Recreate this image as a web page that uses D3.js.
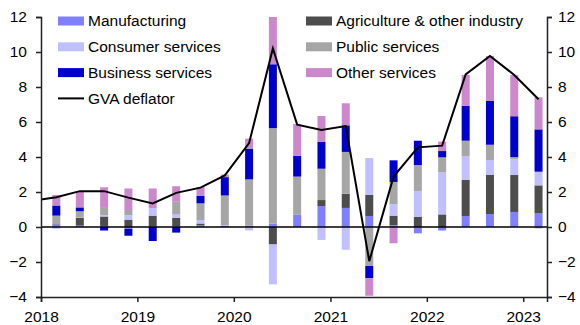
<!DOCTYPE html>
<html lang="en">
<head>
    <meta charset="UTF-8"/>
    <title>GVA deflator contributions</title>
    <script src="https://d3js.org/d3.v7.min.js"></script>
    <style>
        html, body {
            margin: 0;
            padding: 0;
            background: white;
        }
        svg text {
            font-family: "Liberation Sans", Arial, sans-serif;
            font-size: 15.5px;
            fill: #000;
        }
    </style>
</head>
<body>
    <div class="chart-container"></div>
    <script>
        // quarterly contributions to GVA deflator growth, % pts
        var quarters = ["2018 Q1", "2018 Q2", "2018 Q3", "2018 Q4",
                        "2019 Q1", "2019 Q2", "2019 Q3", "2019 Q4",
                        "2020 Q1", "2020 Q2", "2020 Q3", "2020 Q4",
                        "2021 Q1", "2021 Q2", "2021 Q3", "2021 Q4",
                        "2022 Q1", "2022 Q2", "2022 Q3", "2022 Q4",
                        "2023 Q1"];
        var manufacturing = [0.15, 0.08, 0.06, -0.1, 0.02, 0.05, 0.1, 0.08, 0.05, 0.2, 0.72, 1.2, 1.09, 0.63, 0.1, -0.36, -0.2, 0.63, 0.74, 0.86, 0.8];
        var agriculture   = [0.05, 0.45, 0.54, 0.42, 0.63, 0.47, 0.1, 0, 0.02, -1.0, 0, 0.34, 0.81, 1.2, 0.55, 0.59, 0.72, 2.06, 2.25, 2.11, 1.58];
        var consumer      = [-0.1, 0.02, 0.07, 0.25, 0.43, 0.19, 0.2, 0.02, -0.2, -2.28, 0, -0.74, -1.3, 2.11, 0.65, 1.47, 2.4, 1.37, 0.84, 0.92, 0.78];
        var publicServ    = [0.45, 0.35, 0.42, 0.3, 0, 0.73, 0.95, 1.7, 2.65, 5.45, 2.16, 1.79, 2.39, -2.23, 1.27, 1.48, 0.86, 0.87, 0.87, 0.1, -0.08];
        var business      = [0.58, 0.22, -0.2, -0.4, -0.8, -0.32, 0.44, 1.05, 1.76, 3.65, 1.18, 1.53, 1.52, -0.7, 1.24, 1.39, 0.36, 2.0, 2.5, 2.34, 2.42];
        var other         = [0.6, 0.93, 1.18, 1.23, 1.12, 0.89, 0.5, 0.15, 0.57, 2.7, 1.83, 1.48, 1.26, -1.0, -0.93, 0, 0.54, 1.76, 2.57, 2.35, 1.83];

        // GVA deflator, % y/y (starts one quarter earlier)
        var deflatorQuarters = ["2017 Q4"].concat(quarters);
        var deflator = [1.5, 1.7, 2.05, 2.05, 1.68, 1.35, 1.95, 2.25, 2.95, 4.8, 10.2, 5.85, 5.55, 5.77, -1.95, 2.88, 4.55, 4.65, 8.72, 9.77, 8.69, 7.3];

        var seriesNames = ["Manufacturing", "Agriculture & other industry", "Consumer services",
                           "Public services", "Business services", "Other services"];
        var seriesData = [manufacturing, agriculture, consumer, publicServ, business, other];
        var colours = ["#8080ff", "#4d4d4d", "#c0c0ff", "#a6a6a6", "#0000cc", "#cc88cc"];

        var yTicks = [-4, -2, 0, 2, 4, 6, 8, 10, 12];
        var yearTicks = [2018, 2019, 2020, 2021, 2022, 2023];

        var w = 580;
        var h = 325;
        var plotL = 41, plotR = 547, plotT = 17, plotB = 297;

        // mid-quarter date for each "YYYY Qn" label
        function parseQ(s) {
            var yr = +s.slice(0, 4), q = +s.slice(6);
            return new Date(yr, (q - 1) * 3 + 1, 28);
        }

        var x = d3.scaleTime()
                  .domain([new Date(2018, 0, 1), new Date(2023, 3, 1)])
                  .range([plotL, plotR]);
        var y = d3.scaleLinear().domain([-4, 12]).range([plotB, plotT]);

        var rows = quarters.map(function(q, i) {
            var r = { date: parseQ(q) };
            seriesNames.forEach(function(n, j) { r[n] = seriesData[j][i]; });
            return r;
        });

        var stacked = d3.stack()
                        .keys(seriesNames)
                        .offset(d3.stackOffsetDiverging)(rows);

        var svg = d3.select(".chart-container")
                    .append("svg")
                    .attr("width", w)
                    .attr("height", h);

        svg.append("clipPath").attr("id", "plot")
            .append("rect")
            .attr("x", plotL).attr("y", plotT)
            .attr("width", plotR - plotL).attr("height", plotB - plotT);

        // bars
        var barW = 8;
        svg.append("g")
            .selectAll("g")
            .data(stacked)
            .enter()
            .append("g")
            .attr("fill", function(d, i) { return colours[i]; })
            .selectAll("rect")
            .data(function(d) { return d; })
            .enter()
            .append("rect")
            .attr("x", function(d) { return x(d.data.date) - barW / 2; })
            .attr("y", function(d) { return y(Math.max(d[0], d[1])); })
            .attr("width", barW)
            .attr("height", function(d) { return Math.abs(y(d[0]) - y(d[1])); });

        // zero line
        svg.append("line")
            .attr("x1", plotL).attr("x2", plotR)
            .attr("y1", y(0)).attr("y2", y(0))
            .attr("stroke", "#000")
            .attr("stroke-width", 1.5);

        // deflator line
        var line = d3.line()
                     .x(function(d, i) { return x(parseQ(deflatorQuarters[i])); })
                     .y(function(d) { return y(d); });

        svg.append("path")
            .datum(deflator)
            .attr("clip-path", "url(#plot)")
            .attr("fill", "none")
            .attr("stroke", "#000")
            .attr("stroke-width", 2)
            .attr("d", line);

        // axes
        var yLeft = svg.append("g")
            .attr("transform", "translate(" + plotL + ",0)")
            .call(d3.axisLeft(y).tickValues(yTicks).tickSize(5).tickPadding(9));
        var yRight = svg.append("g")
            .attr("transform", "translate(" + plotR + ",0)")
            .call(d3.axisRight(y).tickValues(yTicks).tickSize(5).tickPadding(6));
        var xAxis = svg.append("g")
            .attr("transform", "translate(0," + plotB + ")")
            .call(d3.axisBottom(x)
                .tickValues(yearTicks.map(function(yr) { return new Date(yr, 0, 1); }))
                .tickFormat(d3.timeFormat("%Y"))
                .tickSize(5).tickPadding(9));

        [yLeft, yRight, xAxis].forEach(function(g) {
            g.selectAll("path, line").attr("stroke", "#222").attr("stroke-width", 1.5);
            g.attr("font-size", null).attr("font-family", null);
        });

        // legend, two columns
        var legX = [58, 306];
        var legend = svg.append("g");
        seriesNames.forEach(function(n, i) {
            var cx = legX[i % 2], cy = 21 + 25.8 * Math.floor(i / 2);
            legend.append("rect")
                .attr("x", cx).attr("y", cy - 4.5)
                .attr("width", 26).attr("height", 9)
                .attr("fill", colours[i]);
            legend.append("text")
                .attr("x", cx + 30).attr("y", cy)
                .attr("dy", "0.35em")
                .text(n);
        });
        var gy = 21 + 25.8 * 3;
        legend.append("line")
            .attr("x1", legX[0]).attr("x2", legX[0] + 26)
            .attr("y1", gy).attr("y2", gy)
            .attr("stroke", "#000").attr("stroke-width", 2);
        legend.append("text")
            .attr("x", legX[0] + 30).attr("y", gy)
            .attr("dy", "0.35em")
            .text("GVA deflator");
    </script>
</body>
</html>
